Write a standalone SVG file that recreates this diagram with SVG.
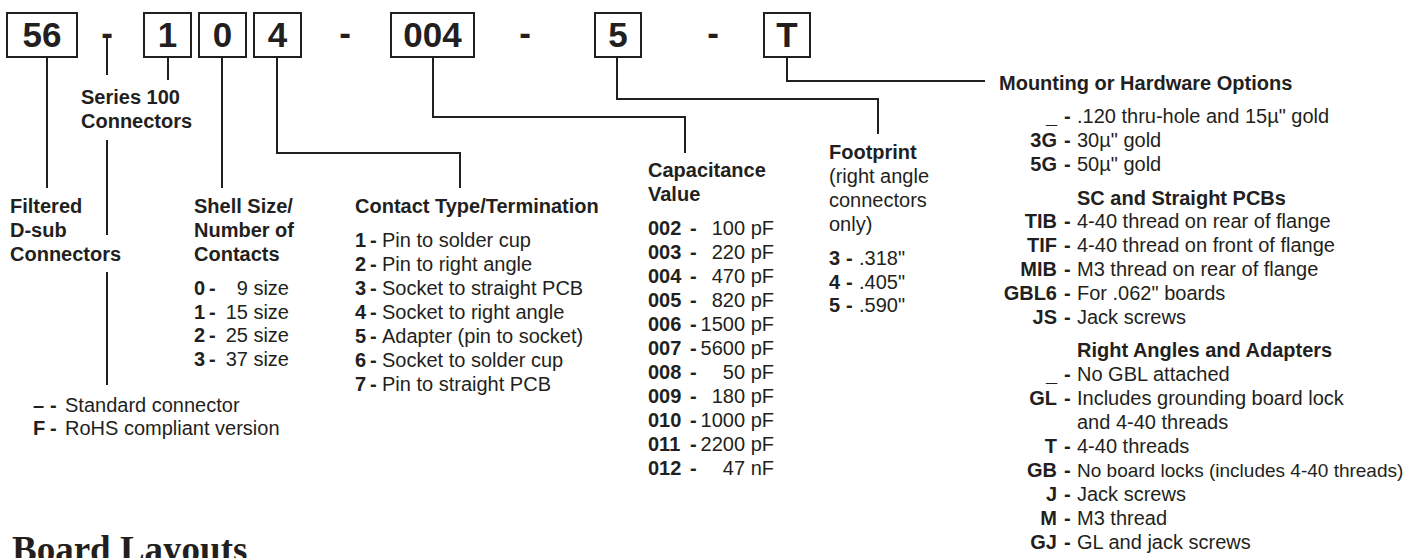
<svg xmlns="http://www.w3.org/2000/svg" width="1414" height="558" viewBox="0 0 1414 558">
<style>
text { font-family: "Liberation Sans", Arial, Helvetica, sans-serif; fill: #231f20; }
.b { font-weight: bold; font-size: 20px; }
.r { font-weight: normal; font-size: 20px; }
.e { text-anchor: end; }
.m { text-anchor: middle; }
.code { font-weight: bold; font-size: 35px; text-anchor: middle; }
.box { fill: #ffffff; stroke: #231f20; stroke-width: 2; }
.conn { fill: none; stroke: #231f20; stroke-width: 2; }
.title { font-family: "Liberation Serif", "Times New Roman", serif; font-weight: bold; font-size: 37px; }
</style>
<rect width="1414" height="558" fill="#ffffff"/>

<g id="connectors">
  <path class="conn" d="M47 57 V188"/>
  <path class="conn" d="M107 37 V75"/>
  <path class="conn" d="M168 57 V80"/>
  <path class="conn" d="M107 140 V235 M107 272 V385"/>
  <path class="conn" d="M222 57 V188"/>
  <path class="conn" d="M277 57 V153 H460 V188"/>
  <path class="conn" d="M433 57 V117 H685 V153"/>
  <path class="conn" d="M617 57 V99 H878 V134"/>
  <path class="conn" d="M787 57 V81 H985"/>
</g>

<g id="part-number">
  <g id="seg-56"><rect class="box" x="7" y="13" width="70" height="44"/><text class="code" x="42" y="47">56</text></g>
  <g id="dash-1"><text class="code" x="107" y="45">-</text></g>
  <g id="seg-1"><rect class="box" x="144" y="13" width="47" height="44"/><text class="code" x="167.5" y="47">1</text></g>
  <g id="seg-0"><rect class="box" x="199" y="13" width="47" height="44"/><text class="code" x="222.5" y="47">0</text></g>
  <g id="seg-4"><rect class="box" x="254" y="13" width="47" height="44"/><text class="code" x="277.5" y="47">4</text></g>
  <g id="dash-2"><text class="code" x="345" y="45">-</text></g>
  <g id="seg-004"><rect class="box" x="391" y="13" width="83" height="44"/><text class="code" x="432.5" y="47">004</text></g>
  <g id="dash-3"><text class="code" x="525" y="45">-</text></g>
  <g id="seg-5"><rect class="box" x="595" y="13" width="46" height="44"/><text class="code" x="618" y="47">5</text></g>
  <g id="dash-4"><text class="code" x="713" y="45">-</text></g>
  <g id="seg-T"><rect class="box" x="764" y="13" width="46" height="44"/><text class="code" x="787" y="47">T</text></g>
</g>

<g id="series">
  <text class="b" x="81" y="104">Series 100</text>
  <text class="b" x="81" y="128">Connectors</text>
</g>

<g id="filtered">
  <text class="b" x="10" y="213">Filtered</text>
  <text class="b" x="10" y="237">D-sub</text>
  <text class="b" x="10" y="261">Connectors</text>
</g>

<g id="rohs">
  <text class="b" x="33" y="412">–</text><text class="b" x="50" y="412">-</text><text class="r" x="65" y="412">Standard connector</text>
  <text class="b" x="33" y="435">F</text><text class="b" x="50" y="435">-</text><text class="r" x="65" y="435">RoHS compliant version</text>
</g>

<g id="shell">
  <text class="b" x="194" y="213">Shell Size/</text>
  <text class="b" x="194" y="237">Number of</text>
  <text class="b" x="194" y="261">Contacts</text>
  <text class="b" x="194" y="295">0</text><text class="b" x="209" y="295">-</text><text class="r e" x="289" y="295">9 size</text>
  <text class="b" x="194" y="319">1</text><text class="b" x="209" y="319">-</text><text class="r e" x="289" y="319">15 size</text>
  <text class="b" x="194" y="342">2</text><text class="b" x="209" y="342">-</text><text class="r e" x="289" y="342">25 size</text>
  <text class="b" x="194" y="366">3</text><text class="b" x="209" y="366">-</text><text class="r e" x="289" y="366">37 size</text>
</g>

<g id="contact">
  <text class="b" x="355" y="213">Contact Type/Termination</text>
  <text class="b" x="355" y="247">1</text><text class="b" x="370" y="247">-</text><text class="r" x="382" y="247">Pin to solder cup</text>
  <text class="b" x="355" y="271">2</text><text class="b" x="370" y="271">-</text><text class="r" x="382" y="271">Pin to right angle</text>
  <text class="b" x="355" y="295">3</text><text class="b" x="370" y="295">-</text><text class="r" x="382" y="295">Socket to straight PCB</text>
  <text class="b" x="355" y="319">4</text><text class="b" x="370" y="319">-</text><text class="r" x="382" y="319">Socket to right angle</text>
  <text class="b" x="355" y="343">5</text><text class="b" x="370" y="343">-</text><text class="r" x="382" y="343">Adapter (pin to socket)</text>
  <text class="b" x="355" y="367">6</text><text class="b" x="370" y="367">-</text><text class="r" x="382" y="367">Socket to solder cup</text>
  <text class="b" x="355" y="391">7</text><text class="b" x="370" y="391">-</text><text class="r" x="382" y="391">Pin to straight PCB</text>
</g>

<g id="capacitance">
  <text class="b" x="648" y="177">Capacitance</text>
  <text class="b" x="648" y="201">Value</text>
  <text class="b" x="648" y="235">002</text><text class="b" x="690" y="235">-</text><text class="r e" x="774" y="235">100 pF</text>
  <text class="b" x="648" y="259">003</text><text class="b" x="690" y="259">-</text><text class="r e" x="774" y="259">220 pF</text>
  <text class="b" x="648" y="283">004</text><text class="b" x="690" y="283">-</text><text class="r e" x="774" y="283">470 pF</text>
  <text class="b" x="648" y="307">005</text><text class="b" x="690" y="307">-</text><text class="r e" x="774" y="307">820 pF</text>
  <text class="b" x="648" y="331">006</text><text class="b" x="690" y="331">-</text><text class="r e" x="774" y="331">1500 pF</text>
  <text class="b" x="648" y="355">007</text><text class="b" x="690" y="355">-</text><text class="r e" x="774" y="355">5600 pF</text>
  <text class="b" x="648" y="379">008</text><text class="b" x="690" y="379">-</text><text class="r e" x="774" y="379">50 pF</text>
  <text class="b" x="648" y="403">009</text><text class="b" x="690" y="403">-</text><text class="r e" x="774" y="403">180 pF</text>
  <text class="b" x="648" y="427">010</text><text class="b" x="690" y="427">-</text><text class="r e" x="774" y="427">1000 pF</text>
  <text class="b" x="648" y="451">011</text><text class="b" x="690" y="451">-</text><text class="r e" x="774" y="451">2200 pF</text>
  <text class="b" x="648" y="475">012</text><text class="b" x="690" y="475">-</text><text class="r e" x="774" y="475">47 nF</text>
</g>

<g id="footprint">
  <text class="b" x="829" y="159">Footprint</text>
  <text class="r" x="829" y="183">(right angle</text>
  <text class="r" x="829" y="207">connectors</text>
  <text class="r" x="829" y="231">only)</text>
  <text class="b" x="829" y="265">3</text><text class="b" x="846" y="265">-</text><text class="r" x="859" y="265">.318"</text>
  <text class="b" x="829" y="289">4</text><text class="b" x="846" y="289">-</text><text class="r" x="859" y="289">.405"</text>
  <text class="b" x="829" y="312">5</text><text class="b" x="846" y="312">-</text><text class="r" x="859" y="312">.590"</text>
</g>

<g id="mounting">
  <text class="b" x="999" y="90">Mounting or Hardware Options</text>
  <text class="b e" x="1057" y="123">_</text><text class="b" x="1064" y="123">-</text><text class="r" x="1077" y="123">.120 thru-hole and 15µ" gold</text>
  <text class="b e" x="1057" y="147">3G</text><text class="b" x="1064" y="147">-</text><text class="r" x="1077" y="147">30µ" gold</text>
  <text class="b e" x="1057" y="171">5G</text><text class="b" x="1064" y="171">-</text><text class="r" x="1077" y="171">50µ" gold</text>
  <text class="b" x="1077" y="205">SC and Straight PCBs</text>
  <text class="b e" x="1057" y="228">TIB</text><text class="b" x="1064" y="228">-</text><text class="r" x="1077" y="228">4-40 thread on rear of flange</text>
  <text class="b e" x="1057" y="252">TIF</text><text class="b" x="1064" y="252">-</text><text class="r" x="1077" y="252">4-40 thread on front of flange</text>
  <text class="b e" x="1057" y="276">MIB</text><text class="b" x="1064" y="276">-</text><text class="r" x="1077" y="276">M3 thread on rear of flange</text>
  <text class="b e" x="1057" y="300">GBL6</text><text class="b" x="1064" y="300">-</text><text class="r" x="1077" y="300">For .062" boards</text>
  <text class="b e" x="1057" y="324">JS</text><text class="b" x="1064" y="324">-</text><text class="r" x="1077" y="324">Jack screws</text>
  <text class="b" x="1077" y="357">Right Angles and Adapters</text>
  <text class="b e" x="1057" y="381">_</text><text class="b" x="1064" y="381">-</text><text class="r" x="1077" y="381">No GBL attached</text>
  <text class="b e" x="1057" y="405">GL</text><text class="b" x="1064" y="405">-</text><text class="r" x="1077" y="405">Includes grounding board lock</text>
  <text class="r" x="1077" y="429">and 4-40 threads</text>
  <text class="b e" x="1057" y="453">T</text><text class="b" x="1064" y="453">-</text><text class="r" x="1077" y="453">4-40 threads</text>
  <text class="b e" x="1057" y="477">GB</text><text class="b" x="1064" y="477">-</text><text class="r" x="1077" y="477" style="font-size:19px">No board locks (includes 4-40 threads)</text>
  <text class="b e" x="1057" y="501">J</text><text class="b" x="1064" y="501">-</text><text class="r" x="1077" y="501">Jack screws</text>
  <text class="b e" x="1057" y="525">M</text><text class="b" x="1064" y="525">-</text><text class="r" x="1077" y="525">M3 thread</text>
  <text class="b e" x="1057" y="549">GJ</text><text class="b" x="1064" y="549">-</text><text class="r" x="1077" y="549">GL and jack screws</text>
</g>

<g id="board-layouts">
  <text class="title" x="12" y="562">Board Layouts</text>
</g>
</svg>
